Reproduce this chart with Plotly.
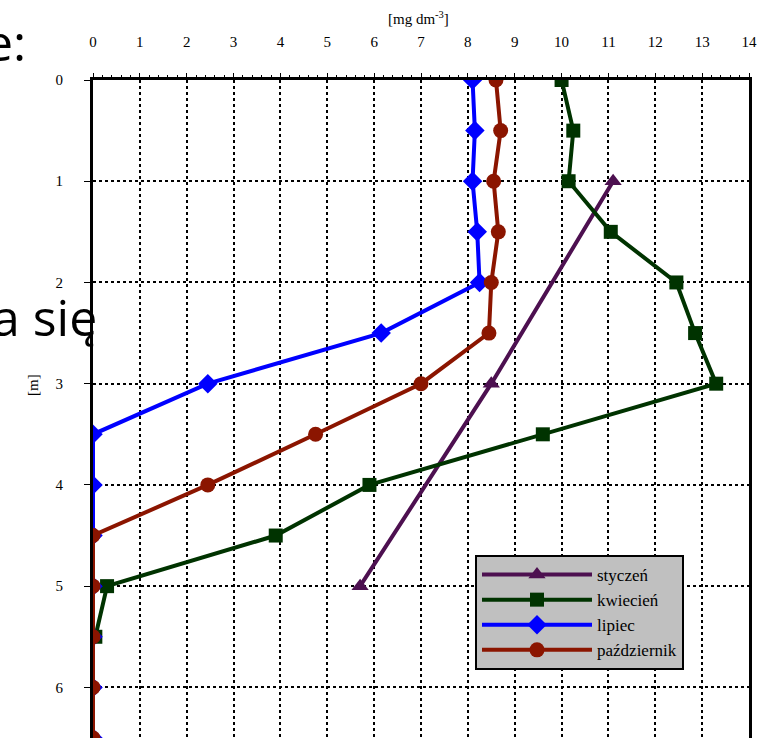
import plotly.graph_objects as go

depth_jan = [1, 3, 5]
val_jan = [11.1, 8.5, 5.7]

depth_apr = [0, 0.5, 1, 1.5, 2, 2.5, 3, 3.5, 4, 4.5, 5, 5.5]
val_apr = [10.0, 10.25, 10.15, 11.05, 12.45, 12.85, 13.3, 9.6, 5.9, 3.9, 0.3, 0.05]

depth_jul = [0, 0.5, 1, 1.5, 2, 2.5, 3, 3.5, 4, 4.5, 5, 5.5, 6, 6.5]
val_jul = [8.1, 8.15, 8.1, 8.2, 8.25, 6.15, 2.45, 0, 0, 0, 0, 0, 0, 0]

depth_oct = [0, 0.5, 1, 1.5, 2, 2.5, 3, 3.5, 4, 4.5, 5, 5.5, 6, 6.5]
val_oct = [8.6, 8.7, 8.55, 8.65, 8.5, 8.45, 7.0, 4.75, 2.45, 0, 0, 0, 0, 0]

names = ["styczeń", "kwiecień", "lipiec", "październik"]
x_ticks = list(range(0, 15))
y_ticks = list(range(0, 7))

fig = go.Figure()
fig.add_trace(go.Scatter(x=val_jan, y=depth_jan, name=names[0], mode="lines+markers",
                         line=dict(color="#4d1050", width=4),
                         marker=dict(symbol="triangle-up", size=15, color="#4d1050")))
fig.add_trace(go.Scatter(x=val_apr, y=depth_apr, name=names[1], mode="lines+markers",
                         line=dict(color="#003300", width=4),
                         marker=dict(symbol="square", size=14, color="#003300")))
fig.add_trace(go.Scatter(x=val_jul, y=depth_jul, name=names[2], mode="lines+markers",
                         line=dict(color="#0000ff", width=4),
                         marker=dict(symbol="diamond", size=15, color="#0000ff")))
fig.add_trace(go.Scatter(x=val_oct, y=depth_oct, name=names[3], mode="lines+markers",
                         line=dict(color="#8b1500", width=4),
                         marker=dict(symbol="circle", size=15, color="#8b1500")))

tickfont = dict(family="Liberation Serif, Times New Roman, serif", size=15, color="black")

L, R, T, B = 93, 12, 80, 0
W, H = 761, 738

fig.update_layout(
    width=W, height=H,
    margin=dict(l=L, r=R, t=T, b=B),
    plot_bgcolor="white", paper_bgcolor="white",
    showlegend=True,
    legend=dict(x=(475 - L) / (W - L - R), y=(H - 555) / (H - T - B),
                xanchor="left", yanchor="top",
                bgcolor="#c0c0c0", bordercolor="black", borderwidth=2,
                font=dict(family="Liberation Serif, serif", size=17, color="black"),
                itemwidth=110, tracegroupgap=0),
    xaxis=dict(side="top", range=[0, 14], tickvals=x_ticks, ticktext=[str(v) for v in x_ticks],
               showgrid=True, gridcolor="black", griddash="dot", gridwidth=1.5,
               showline=True, linecolor="black", linewidth=3, mirror=True,
               ticks="outside", ticklen=4, tickcolor="black", tickfont=tickfont,
               ticklabelstandoff=20, automargin=False,
               zeroline=False,
               minor=dict(dtick=0.2, ticks="outside", ticklen=2, tickcolor="black", showgrid=False)),
    yaxis=dict(range=[6.5, 0], tickvals=y_ticks, ticktext=[str(v) for v in y_ticks],
               showgrid=True, gridcolor="black", griddash="dot", gridwidth=1.5,
               showline=True, linecolor="black", linewidth=3, mirror=True,
               ticks="outside", ticklen=6, tickcolor="black", tickfont=tickfont,
               ticklabelstandoff=18, automargin=False,
               zeroline=False),
    annotations=[
        dict(text="[mg dm<sup>-3</sup>]", x=418, y=18, showarrow=False,
             xanchor="center", yanchor="middle",
             font=dict(family="Liberation Serif, serif", size=15, color="black")),
        dict(text="[m]", x=33, y=385, textangle=-90, showarrow=False,
             xanchor="center", yanchor="middle", font=tickfont),
        dict(text="e:", x=28, y=42, showarrow=False, xanchor="right", yanchor="middle",
             font=dict(family="Open Sans, sans-serif", size=50, color="black")),
        dict(text="a się", x=99, y=317, showarrow=False, xanchor="right", yanchor="middle",
             font=dict(family="Open Sans, sans-serif", size=50, color="black")),
    ],
)

# convert pixel positions of annotations to paper coordinates
plot_w = W - L - R
plot_h = H - T - B
new_ann = []
for a in fig.layout.annotations:
    a = a.to_plotly_json()
    px, py = a["x"], a["y"]
    a["xref"] = "paper"
    a["yref"] = "paper"
    a["x"] = (px - L) / plot_w
    a["y"] = (H - B - py) / plot_h
    new_ann.append(a)
fig.layout.annotations = new_ann

fig.write_html("out.html", config={"displayModeBar": False},
               post_script="document.body.style.margin='0';document.body.style.overflow='hidden';")
